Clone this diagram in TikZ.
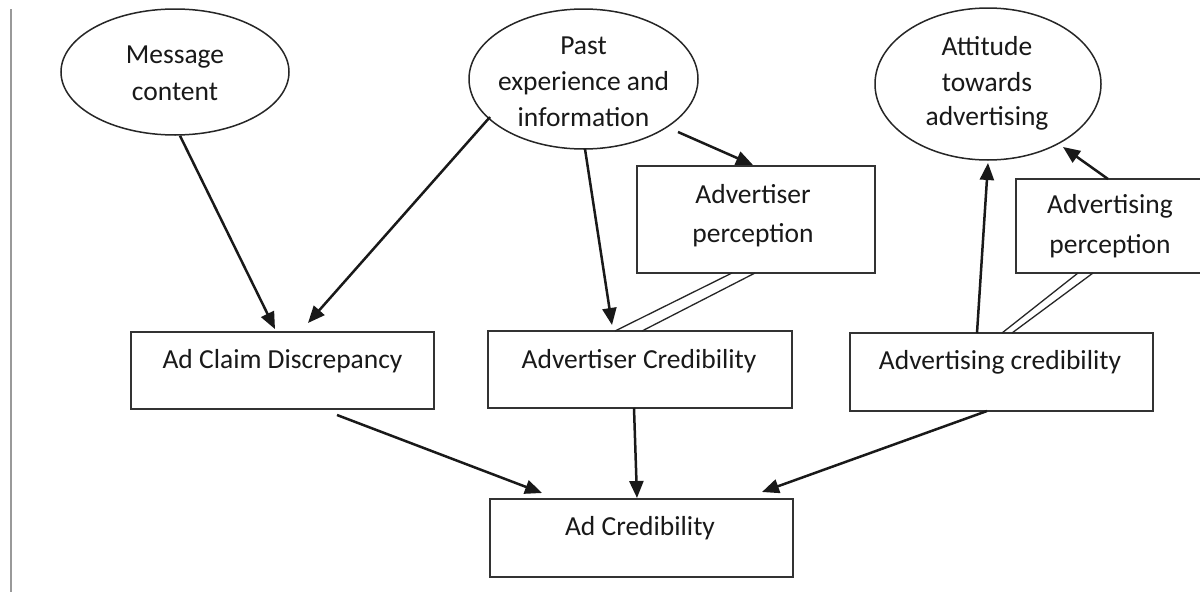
\documentclass[tikz,border=0pt]{standalone}
\usepackage{fontspec}
\setmainfont{Carlito}
\usetikzlibrary{shapes.geometric,arrows.meta,calc}
\begin{document}
\begin{tikzpicture}[x=1pt,y=-1pt,
  ell/.style={draw=black!85,line width=1.5pt,ellipse,inner sep=0pt},
  box/.style={draw=black!80,line width=1.8pt,rectangle,inner sep=0pt},
  txt/.style={anchor=base,inner sep=0pt,font=\fontsize{27.5}{33}\selectfont,text=black!90},
  arr/.style={line width=2.5pt,draw=black!90,-{Triangle[length=17pt,width=14pt]}},
  dbl/.style={draw=black!85,line width=1.3pt}]
\useasboundingbox (0,0) rectangle (1200,592);
\fill[white] (0,0) rectangle (1200,592);
\coordinate (lt) at (11,9);
\coordinate (lb) at (11,592);
\draw[black!40,line width=1.5pt] (lt) -- (lb);
% shapes
\node[ell,minimum width=228,minimum height=126] (mc) at (175,72) {};
\node[ell,minimum width=229,minimum height=140] (pe) at (583.5,79) {};
\node[ell,minimum width=226,minimum height=152] (at) at (988,84) {};
\node[box,minimum width=238,minimum height=107] (ap) at (756,219.5) {};
\node[box,minimum width=187,minimum height=94] (gp) at (1109.5,226) {};
\node[box,minimum width=303,minimum height=77] (acd) at (282.5,370.5) {};
\node[box,minimum width=304,minimum height=77] (ac) at (640,369.5) {};
\node[box,minimum width=303,minimum height=78] (gc) at (1001.5,372) {};
\node[box,minimum width=303,minimum height=78] (adc) at (641.5,538) {};
% texts
\node[txt] (t1) at (175,63) {Message};
\node[txt] (t2) at (175,100) {content};
\node[txt] (t3) at (583.5,54) {Past};
\node[txt] (t4) at (583.5,90) {experience and};
\node[txt] (t5) at (583.5,126) {information};
\node[txt] (t6) at (987,55) {Attitude};
\node[txt] (t7) at (987,91) {towards};
\node[txt] (t8) at (987,125) {advertising};
\node[txt] (t9) at (753,203) {Advertiser};
\node[txt] (t10) at (753,242) {perception};
\node[txt] (t11) at (1110,213) {Advertising};
\node[txt] (t12) at (1110,253) {perception};
\node[txt] (t13) at (282.5,368) {Ad Claim Discrepancy};
\node[txt] (t14) at (639,368) {Advertiser Credibility};
\node[txt] (t15) at (1000,369) {Advertising credibility};
\node[txt] (t16) at (640,535) {Ad Credibility};
% connectors
\draw[arr] ($(mc.south)+(5,0)$) -- ($(acd.north)+(-7.5,-2)$);
\draw[arr] ($(pe.center)+(-93.5,38)$) -- ($(acd.center)+(25.5,-47.5)$);
\draw[arr] ($(pe.center)+(1.5,70)$) -- ($(ac.center)+(-28,-44.5)$);
\draw[arr] ($(pe.center)+(94.5,53)$) -- ($(ap.center)+(-3,-54.5)$);
\draw[dbl] ($(ap.center)+(-24,53.5)$) -- ($(ac.center)+(-25,-38.5)$);
\draw[dbl] ($(ap.center)+(-1,53.5)$) -- ($(ac.center)+(2,-38.5)$);
\draw[arr] ($(gc.center)+(-24.5,-39)$) -- ($(at.center)+(0,79)$);
\draw[arr] ($(gp.center)+(-1.5,-47)$) -- ($(at.center)+(75,63)$);
\draw[dbl] ($(gp.center)+(-31.5,47)$) -- ($(gc.center)+(0.5,-39)$);
\draw[dbl] ($(gp.center)+(-16.5,47)$) -- ($(gc.center)+(10.5,-39)$);
\draw[arr] ($(acd.center)+(54.5,44.5)$) -- ($(adc.center)+(-99.5,-45)$);
\draw[arr] ($(ac.center)+(-6,38.5)$) -- ($(adc.center)+(-4.5,-40)$);
\draw[arr] ($(gc.center)+(-14.5,39)$) -- ($(adc.center)+(120.5,-46)$);
\end{tikzpicture}
\end{document}
